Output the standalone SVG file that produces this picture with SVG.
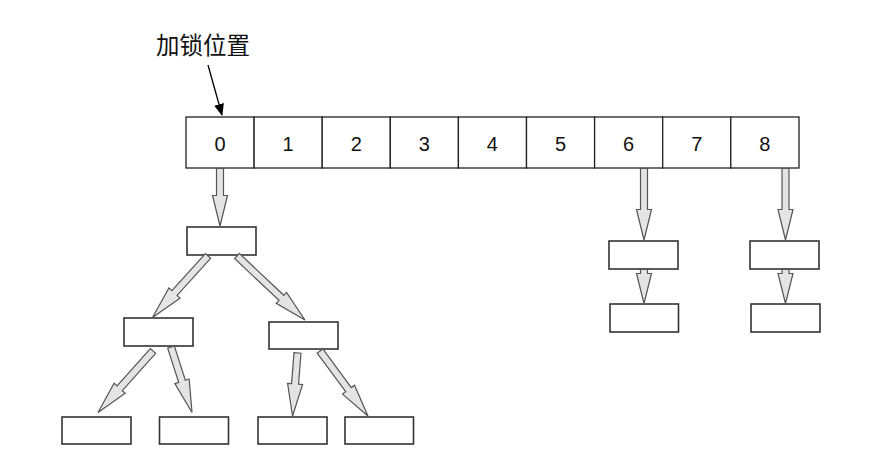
<svg xmlns="http://www.w3.org/2000/svg" width="887" height="462" viewBox="0 0 887 462">
<style>
.cell{fill:#fff;stroke:#222;stroke-width:1.3}
.box{fill:#fff;stroke:#333;stroke-width:1.6}
.num{font-family:"Liberation Sans",Arial,sans-serif;font-size:20px;fill:#111;text-anchor:middle}
.lbl{font-family:"Liberation Sans","Noto Sans CJK SC",sans-serif;font-size:23.5px;fill:#111}
.ba{fill:#e4e4e4;stroke:#555;stroke-width:1.2;stroke-linejoin:miter}
</style>
<defs>
<marker id="ah" markerWidth="12" markerHeight="10" refX="11" refY="5" orient="auto" markerUnits="userSpaceOnUse">
<path d="M0,0 L12,5 L0,10 Z" fill="#000"/>
</marker>
</defs>
<rect width="887" height="462" fill="#fff"/>
<g id="label">
<text class="lbl" x="156" y="54">加锁位置</text>
</g>
<g id="array">
<rect class="cell" x="186" y="117" width="68.1" height="51"/>
<rect class="cell" x="254.1" y="117" width="68.1" height="51"/>
<rect class="cell" x="322.2" y="117" width="68.1" height="51"/>
<rect class="cell" x="390.3" y="117" width="68.1" height="51"/>
<rect class="cell" x="458.4" y="117" width="68.1" height="51"/>
<rect class="cell" x="526.5" y="117" width="68.1" height="51"/>
<rect class="cell" x="594.6" y="117" width="68.1" height="51"/>
<rect class="cell" x="662.7" y="117" width="68.1" height="51"/>
<rect class="cell" x="730.8" y="117" width="68.2" height="51"/>
<text class="num" x="220" y="151">0</text>
<text class="num" x="288.1" y="151">1</text>
<text class="num" x="356.2" y="151">2</text>
<text class="num" x="424.3" y="151">3</text>
<text class="num" x="492.4" y="151">4</text>
<text class="num" x="560.5" y="151">5</text>
<text class="num" x="628.6" y="151">6</text>
<text class="num" x="696.7" y="151">7</text>
<text class="num" x="764.8" y="151">8</text>
</g>
<g id="n0"><rect class="box" x="187" y="227" width="69" height="28"/></g>
<g id="n1"><rect class="box" x="124" y="318" width="69" height="28"/></g>
<g id="n2"><rect class="box" x="269" y="322" width="69" height="27"/></g>
<g id="n3"><rect class="box" x="62" y="417" width="69" height="27"/></g>
<g id="n4"><rect class="box" x="159.5" y="417" width="69" height="27"/></g>
<g id="n5"><rect class="box" x="258" y="417" width="69" height="27"/></g>
<g id="n6"><rect class="box" x="345" y="417" width="68.5" height="27"/></g>
<g id="n7"><rect class="box" x="609" y="241" width="69" height="28"/></g>
<g id="n8"><rect class="box" x="610" y="304" width="68.5" height="28"/></g>
<g id="n9"><rect class="box" x="750" y="241" width="69" height="28"/></g>
<g id="n10"><rect class="box" x="751" y="304" width="69" height="28"/></g>
<g id="connectors">
<line x1="208" y1="65" x2="222" y2="115" stroke="#000" stroke-width="1.3" marker-end="url(#ah)"/>
<path class="ba" transform="translate(220,168.5) rotate(90)" d="M0,-3.5 L27,-3.5 L27,-7.5 L57.5,0 L27,7.5 L27,3.5 L0,3.5 Z"/>
<path class="ba" transform="translate(644,168.5) rotate(90)" d="M0,-3.5 L41,-3.5 L41,-7.5 L71.5,0 L41,7.5 L41,3.5 L0,3.5 Z"/>
<path class="ba" transform="translate(785.5,168.5) rotate(90)" d="M0,-3.5 L41,-3.5 L41,-7.5 L71.5,0 L41,7.5 L41,3.5 L0,3.5 Z"/>
<path class="ba" transform="translate(644,269.5) rotate(90)" d="M0,-3.5 L4,-3.5 L4,-7.5 L34,0 L4,7.5 L4,3.5 L0,3.5 Z"/>
<path class="ba" transform="translate(785.5,269.5) rotate(90)" d="M0,-3.5 L4,-3.5 L4,-7.5 L34,0 L4,7.5 L4,3.5 L0,3.5 Z"/>
<path class="ba" transform="translate(208,256) rotate(132.1)" d="M0,-3.5 L50,-3.5 L50,-7.5 L82.8,0 L50,7.5 L50,3.5 L0,3.5 Z"/>
<path class="ba" transform="translate(237,256) rotate(43.3)" d="M0,-3.5 L61,-3.5 L61,-7.5 L93.4,0 L61,7.5 L61,3.5 L0,3.5 Z"/>
<path class="ba" transform="translate(153,351) rotate(131.8)" d="M0,-3.5 L50,-3.5 L50,-7.5 L82.5,0 L50,7.5 L50,3.5 L0,3.5 Z"/>
<path class="ba" transform="translate(171,347) rotate(72.2)" d="M0,-3.5 L36,-3.5 L36,-7.5 L68.8,0 L36,7.5 L36,3.5 L0,3.5 Z"/>
<path class="ba" transform="translate(297.5,353) rotate(94.5)" d="M0,-3.5 L31,-3.5 L31,-7.5 L63.2,0 L31,7.5 L31,3.5 L0,3.5 Z"/>
<path class="ba" transform="translate(320,351) rotate(53.6)" d="M0,-3.5 L48,-3.5 L48,-7.5 L80.8,0 L48,7.5 L48,3.5 L0,3.5 Z"/>
</g>
</svg>
